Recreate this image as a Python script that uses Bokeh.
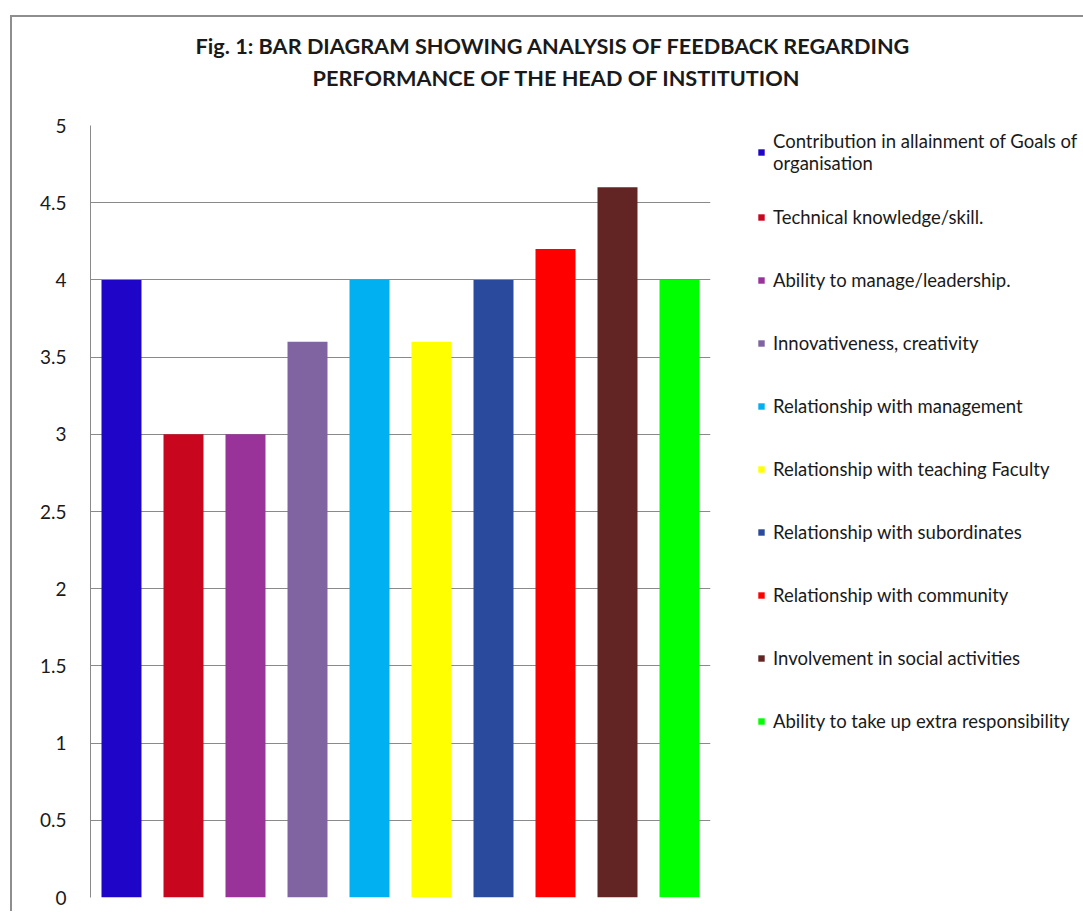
from bokeh.plotting import figure
from bokeh.models import ColumnDataSource, Legend, LegendItem, Title, FixedTicker, Range1d
from bokeh.embed import file_html
from bokeh.resources import INLINE

categories = [
    "Contribution in allainment of Goals of\norganisation",
    "Technical knowledge/skill.",
    "Ability to manage/leadership.",
    "Innovativeness, creativity",
    "Relationship with management",
    "Relationship with teaching Faculty",
    "Relationship with subordinates",
    "Relationship with community",
    "Involvement in social activities",
    "Ability to take up extra responsibility",
]
values = [4.0, 3.0, 3.0, 3.6, 4.0, 3.6, 4.0, 4.2, 4.6, 4.0]
colors = ["#1F05C8", "#C8061E", "#993399", "#8064A2", "#00B0F0",
          "#FFFF00", "#2A4A9E", "#FF0000", "#632523", "#00FF00"]
y_ticks = [0, 0.5, 1, 1.5, 2, 2.5, 3, 3.5, 4, 4.5, 5]
title_lines = ["Fig. 1: BAR DIAGRAM SHOWING ANALYSIS OF FEEDBACK REGARDING",
               "PERFORMANCE OF THE HEAD OF INSTITUTION"]

FONT = "Lato"

p = figure(frame_width=620, frame_height=772, x_range=Range1d(-0.5, 9.5), y_range=Range1d(0, 5),
           output_backend="svg", toolbar_location=None, tools="",
           min_border_left=78, min_border_right=360, min_border_top=108, min_border_bottom=14,
           outline_line_color=None)
p.margin = (15, 0, 0, 10)
p.styles = {"border-left": "2px solid #8e8e8e", "border-top": "2px solid #8e8e8e"}

xs = list(range(len(categories)))
items = []
for i in xs:
    src = ColumnDataSource(dict(x=[xs[i]], top=[values[i]]))
    r = p.vbar(x="x", top="top", bottom=0, width=0.645, source=src,
               fill_color=colors[i], line_color=None)
    items.append(LegendItem(label=categories[i], renderers=[r]))

p.xaxis.visible = False
p.xgrid.visible = False
p.ygrid.ticker = FixedTicker(ticks=y_ticks)
p.ygrid.grid_line_color = "#8a8a8a"
p.ygrid.grid_line_width = 1

ya = p.yaxis[0]
ya.ticker = FixedTicker(ticks=y_ticks)
ya.major_label_overrides = {t: ("%g" % t) for t in y_ticks}
ya.axis_line_color = "#8a8a8a"
ya.major_tick_line_color = None
ya.minor_tick_line_color = None
ya.major_label_standoff = 18
ya.major_label_text_font = FONT
ya.major_label_text_font_size = "19px"
ya.major_label_text_color = "#1a1a1a"

legend = Legend(items=items, location=(47, 156), padding=0, margin=0,
                border_line_color=None, background_fill_alpha=0,
                glyph_width=8, glyph_height=8, label_standoff=8,
                label_height=40, spacing=23,
                label_text_font=FONT, label_text_font_size="18.5px",
                label_text_color="#1a1a1a")
p.add_layout(legend, "right")

p.title.text = title_lines[0]
p.title.align = "left"
p.title.offset = 105
p.title.standoff = 8
p.title.text_font = FONT
p.title.text_font_style = "bold"
p.title.text_font_size = "21.7px"
p.title.text_color = "#1a1a1a"

t2 = Title(text=title_lines[1], align="left", offset=222, standoff=0,
           padding=(0, 0, 0, 35),
           text_font=FONT, text_font_style="bold", text_font_size="21.7px",
           text_color="#1a1a1a")
p.add_layout(t2, "above")

open("out.html", "w").write(file_html(p, INLINE))
